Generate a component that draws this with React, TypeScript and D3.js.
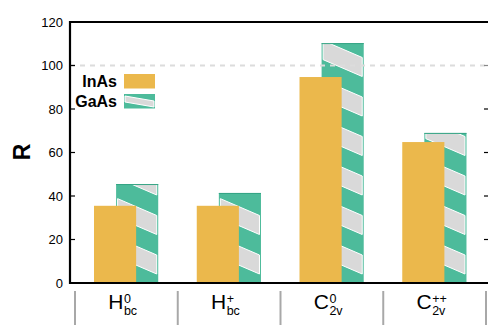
import React from "react";
import * as d3 from "d3";

// Defect configurations (x categories)
const categories = ["Hbc0", "Hbc+", "C2v0", "C2v++"];
const labelMain = ["H", "H", "C", "C"];
const labelSup = ["0", "+", "0", "++"];
const labelSub = ["bc", "bc", "2v", "2v"];

// R values per material
const inAsValues = [35.5, 35.5, 94.7, 64.8];
const gaAsValues = [45.5, 41.4, 110.3, 69.0];

const yTicks = [0, 20, 40, 60, 80, 100, 120];
const refLine = 100;

const seriesNames = ["InAs", "GaAs"];

const W = 488;
const H = 325;
const FONT = "'Liberation Sans', Arial, Helvetica, sans-serif";

const C_INAS = "#ebb84c";
const C_GAAS = "#4dbb9b";
const C_STRIPE = "#d9d9d9";

const plotLeft = 70;
const plotRight = 488;
const plotTop = 22;
const plotBottom = 283;

export default function App() {
  const x = d3
    .scaleBand<string>()
    .domain(categories)
    .range([75, 486])
    .paddingInner(0)
    .paddingOuter(0);
  const bw = x.bandwidth();
  const y = d3.scaleLinear().domain([0, 120]).range([plotBottom, plotTop]);

  const barW = bw * 0.41;
  const inAsOff = bw * 0.185;
  const gaAsOff = bw * 0.4;

  // stripe pattern parameters for the GaAs fill
  const stripePeriod = 39.5;
  const stripeOffset = 28;
  const stripeThick = 19;
  const stripeDrop = barW * 0.4;

  const stripesFor = (x0: number, x1: number, yTop: number) => {
    const y0 = y(0);
    const polys: string[] = [];
    for (let k = 0; k < 20; k++) {
      const rt = y0 - stripeOffset - k * stripePeriod;
      if (rt + stripeThick < yTop + 3) break;
      const pts = [
        [x0 + 1.5, rt - stripeDrop],
        [x1 - 1.5, rt],
        [x1 - 1.5, rt + stripeThick],
        [x0 + 1.5, rt + stripeThick - stripeDrop],
      ];
      polys.push(pts.map((p) => p.join(",")).join(" "));
    }
    return polys;
  };

  const boundaries = [...categories.map((c) => x(c) as number), (x(categories[categories.length - 1]) as number) + bw];

  // legend geometry
  const legX = 124;
  const legW = 31;
  const legH = 14.5;
  const legY = [74, 94];

  return (
    <svg
      width={W}
      height={H}
      style={{ position: "fixed", left: 0, top: 0, background: "#fff" }}
      fontFamily={FONT}
    >
      <defs>
        {categories.map((c, i) => {
          const bx = (x(c) as number) + gaAsOff;
          return (
            <clipPath id={`clip-gaas-${i}`} key={c}>
              <rect x={bx} y={y(gaAsValues[i])} width={barW} height={y(0) - y(gaAsValues[i])} />
            </clipPath>
          );
        })}
        <clipPath id="clip-leg">
          <rect x={legX} y={legY[1]} width={legW} height={legH} />
        </clipPath>
      </defs>

      {/* GaAs bars (behind) */}
      {categories.map((c, i) => {
        const bx = (x(c) as number) + gaAsOff;
        const top = y(gaAsValues[i]);
        return (
          <g key={`g-${c}`}>
            <rect x={bx} y={top} width={barW} height={y(0) - top} fill={C_GAAS} />
            <g clipPath={`url(#clip-gaas-${i})`}>
              {stripesFor(bx, bx + barW, top).map((p, k) => (
                <polygon key={k} points={p} fill={C_STRIPE} stroke="#fff" strokeWidth={1} />
              ))}
            </g>
            <line x1={bx} x2={bx + barW} y1={top + 0.5} y2={top + 0.5} stroke="#35a585" strokeWidth={1} />
          </g>
        );
      })}

      {/* InAs bars (front) */}
      {categories.map((c, i) => {
        const bx = (x(c) as number) + inAsOff;
        const top = y(inAsValues[i]);
        return <rect key={`i-${c}`} x={bx} y={top} width={barW} height={y(0) - top} fill={C_INAS} />;
      })}

      {/* reference line */}
      <line
        x1={plotLeft}
        x2={plotRight}
        y1={y(refLine)}
        y2={y(refLine)}
        stroke="#dcdcdc"
        strokeWidth={2}
        strokeDasharray="5,5"
      />

      {/* frame */}
      <line x1={plotLeft - 1} x2={plotRight} y1={plotTop} y2={plotTop} stroke="#000" strokeWidth={2} />
      <line x1={plotLeft - 1} x2={plotRight} y1={plotBottom} y2={plotBottom} stroke="#000" strokeWidth={2.2} />
      <line x1={plotLeft} x2={plotLeft} y1={plotTop - 1} y2={plotBottom + 1} stroke="#000" strokeWidth={2.2} />

      {/* y ticks and labels */}
      {yTicks.map((t) => (
        <g key={`t-${t}`}>
          {t > 0 && t < 120 && (
            <>
              <line x1={plotLeft} x2={plotLeft + 5} y1={y(t)} y2={y(t)} stroke="#000" strokeWidth={1.2} />
              <line x1={plotRight - 4} x2={plotRight} y1={y(t)} y2={y(t)} stroke={t === refLine ? "#888" : "#000"} strokeWidth={1.2} />
            </>
          )}
          <text x={63} y={y(t)} dy="0.36em" textAnchor="end" fontSize={13} fill="#000">
            {t}
          </text>
        </g>
      ))}

      {/* y axis title */}
      <text
        transform={`translate(30,152) rotate(-90)`}
        textAnchor="middle"
        fontSize={23}
        fontWeight="bold"
        fill="#000"
      >
        R
      </text>

      {/* category separators */}
      {boundaries.map((b, i) => (
        <line key={`s-${i}`} x1={b} x2={b} y1={291} y2={H} stroke="#a8a8a8" strokeWidth={2} />
      ))}

      {/* category labels */}
      {categories.map((c, i) => {
        const cx = (x(c) as number) + bw / 2 - 3;
        return (
          <g key={`l-${c}`}>
            <text x={cx} y={308.5} textAnchor="end" fontSize={21} fill="#000">
              {labelMain[i]}
            </text>
            <text x={cx + 0.5} y={302.5} fontSize={12.5} fill="#000">
              {labelSup[i]}
            </text>
            <text x={cx + 0.5} y={315} fontSize={12.5} fill="#000">
              {labelSub[i]}
            </text>
          </g>
        );
      })}

      {/* legend */}
      <text x={117} y={87.3} textAnchor="end" fontSize={16} fontWeight="bold" fill="#000">
        {seriesNames[0]}
      </text>
      <rect x={legX} y={legY[0]} width={legW} height={legH} fill={C_INAS} />
      <text x={117} y={106.7} textAnchor="end" fontSize={16} fontWeight="bold" fill="#000">
        {seriesNames[1]}
      </text>
      <rect x={legX} y={legY[1]} width={legW} height={legH} fill={C_GAAS} />
      <g clipPath="url(#clip-leg)">
        <polygon
          points={[
            [legX + 1, legY[1] + 2],
            [legX + legW - 1, legY[1] + 7],
            [legX + legW - 1, legY[1] + 13],
            [legX + 1, legY[1] + 8],
          ]
            .map((p) => p.join(","))
            .join(" ")}
          fill={C_STRIPE}
          stroke="#fff"
          strokeWidth={1}
        />
      </g>
    </svg>
  );
}
